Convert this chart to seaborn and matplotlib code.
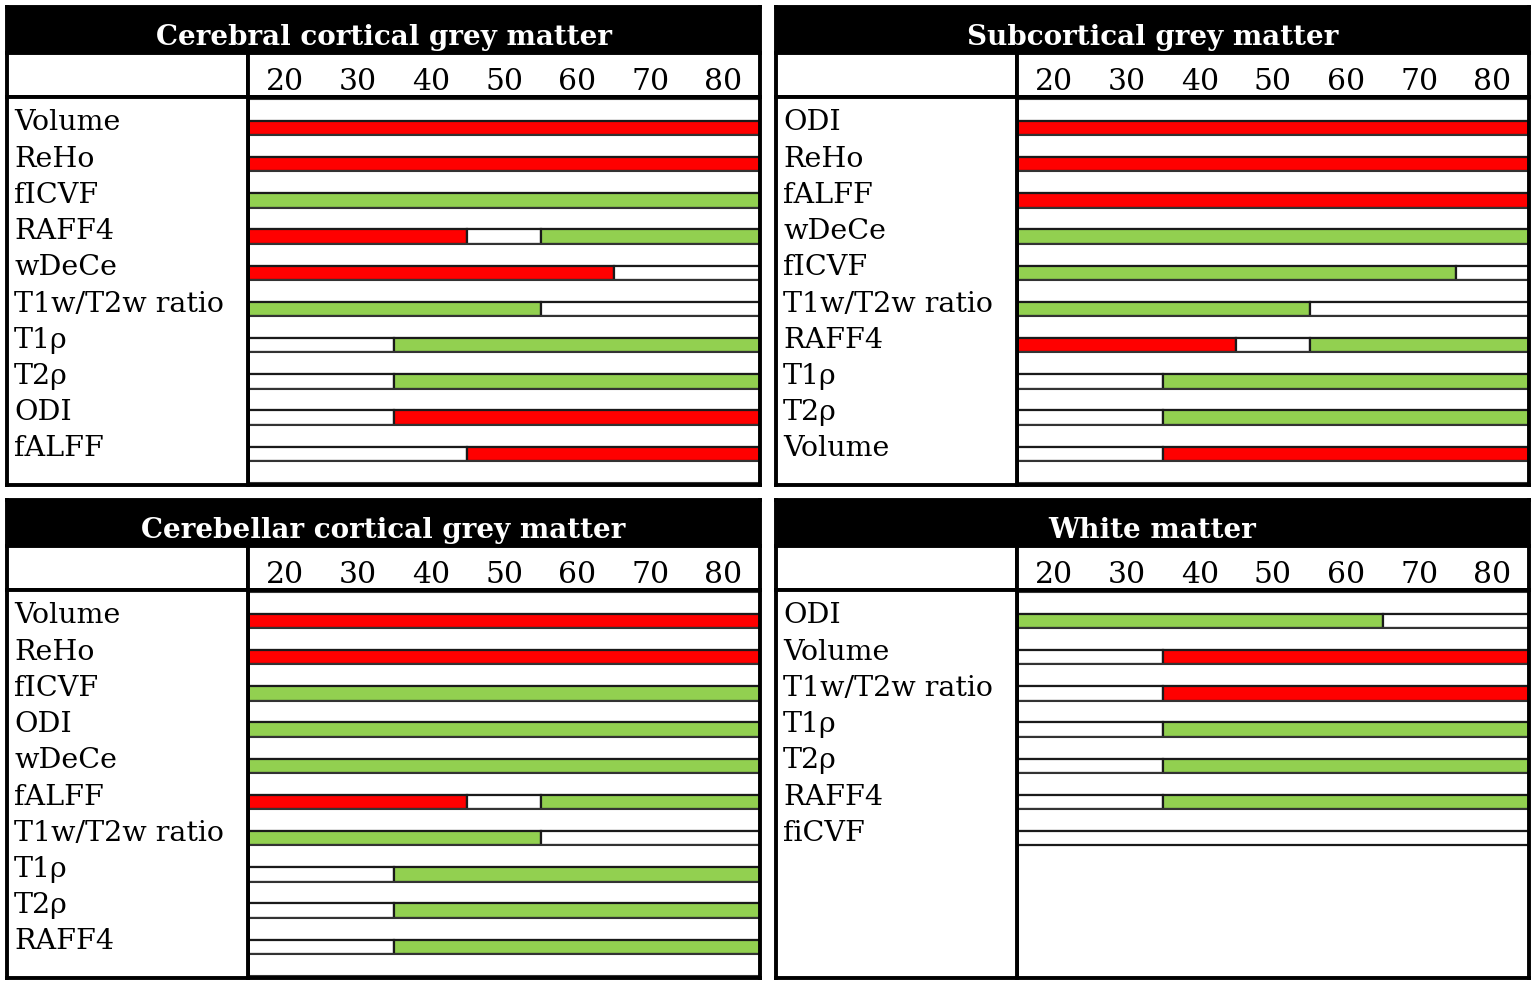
import matplotlib.pyplot as plt
import seaborn as sns

sns.set_theme(style="white")
plt.rcParams["font.family"] = ["DejaVu Serif"]

# age range of the bars and the header ticks
AGE_MIN, AGE_MAX = 15, 85
age_ticks = [20, 30, 40, 50, 60, 70, 80]

titles = ["Cerebral cortical grey matter", "Subcortical grey matter",
          "Cerebellar cortical grey matter", "White matter"]

# segments: (age from, age to, effect)  neg = red, pos = green, ns = white
cerebral_measures = ["Volume", "ReHo", "fICVF", "RAFF4", "wDeCe",
                     "T1w/T2w ratio", "T1ρ", "T2ρ", "ODI", "fALFF"]
cerebral_segments = [
    [(15, 85, "neg")],
    [(15, 85, "neg")],
    [(15, 85, "pos")],
    [(15, 45, "neg"), (45, 55, "ns"), (55, 85, "pos")],
    [(15, 65, "neg"), (65, 85, "ns")],
    [(15, 55, "pos"), (55, 85, "ns")],
    [(15, 35, "ns"), (35, 85, "pos")],
    [(15, 35, "ns"), (35, 85, "pos")],
    [(15, 35, "ns"), (35, 85, "neg")],
    [(15, 45, "ns"), (45, 85, "neg")],
]

subcortical_measures = ["ODI", "ReHo", "fALFF", "wDeCe", "fICVF",
                        "T1w/T2w ratio", "RAFF4", "T1ρ", "T2ρ", "Volume"]
subcortical_segments = [
    [(15, 85, "neg")],
    [(15, 85, "neg")],
    [(15, 85, "neg")],
    [(15, 85, "pos")],
    [(15, 75, "pos"), (75, 85, "ns")],
    [(15, 55, "pos"), (55, 85, "ns")],
    [(15, 45, "neg"), (45, 55, "ns"), (55, 85, "pos")],
    [(15, 35, "ns"), (35, 85, "pos")],
    [(15, 35, "ns"), (35, 85, "pos")],
    [(15, 35, "ns"), (35, 85, "neg")],
]

cerebellar_measures = ["Volume", "ReHo", "fICVF", "ODI", "wDeCe", "fALFF",
                       "T1w/T2w ratio", "T1ρ", "T2ρ", "RAFF4"]
cerebellar_segments = [
    [(15, 85, "neg")],
    [(15, 85, "neg")],
    [(15, 85, "pos")],
    [(15, 85, "pos")],
    [(15, 85, "pos")],
    [(15, 45, "neg"), (45, 55, "ns"), (55, 85, "pos")],
    [(15, 55, "pos"), (55, 85, "ns")],
    [(15, 35, "ns"), (35, 85, "pos")],
    [(15, 35, "ns"), (35, 85, "pos")],
    [(15, 35, "ns"), (35, 85, "pos")],
]

white_measures = ["ODI", "Volume", "T1w/T2w ratio", "T1ρ", "T2ρ", "RAFF4", "fiCVF"]
white_segments = [
    [(15, 65, "pos"), (65, 85, "ns")],
    [(15, 35, "ns"), (35, 85, "neg")],
    [(15, 35, "ns"), (35, 85, "neg")],
    [(15, 35, "ns"), (35, 85, "pos")],
    [(15, 35, "ns"), (35, 85, "pos")],
    [(15, 35, "ns"), (35, 85, "pos")],
    [(15, 85, "ns")],
]

all_measures = [cerebral_measures, subcortical_measures, cerebellar_measures, white_measures]
all_segments = [cerebral_segments, subcortical_segments, cerebellar_segments, white_segments]

effect_colors = {"neg": "#ff0000", "pos": "#92d050", "ns": "white"}

# layout in pixels
W, H = 1536, 985
fig = plt.figure(figsize=(W / 100, H / 100), dpi=100)
panel_origin = [(7, 7), (776, 7), (7, 500), (776, 500)]
PW, PH = 753, 478
TITLE_H, HEAD_H, LAB_W = 46, 44, 241
SPACER = 0.6
MAX_ROWS = 10


def add_ax(x0, y0, x1, y1, **kw):
    return fig.add_axes([x0 / W, 1 - y1 / H, (x1 - x0) / W, (y1 - y0) / H], **kw)


def frame(ax, lw=2.8):
    ax.set_xticks([])
    ax.set_yticks([])
    for s in ax.spines.values():
        s.set_visible(True)
        s.set_color("black")
        s.set_linewidth(lw)


for (px, py), title, measures, segments in zip(panel_origin, titles, all_measures, all_segments):
    # title bar
    ax_t = add_ax(px, py, px + PW, py + TITLE_H)
    ax_t.set_facecolor("black")
    frame(ax_t)
    ax_t.text(0.5, 0.18, title, transform=ax_t.transAxes, ha="center", va="baseline",
              color="white", fontsize=20, fontweight="bold")

    # header row
    ax_hl = add_ax(px, py + TITLE_H, px + LAB_W, py + TITLE_H + HEAD_H)
    frame(ax_hl)
    ax_h = add_ax(px + LAB_W, py + TITLE_H, px + PW, py + TITLE_H + HEAD_H)
    ax_h.set_xlim(AGE_MIN, AGE_MAX)
    frame(ax_h)
    for t in age_ticks:
        ax_h.text(t, 0.16, str(t), transform=ax_h.get_xaxis_transform(),
                  ha="center", va="baseline", fontsize=21.5, color="black")

    # body with bars
    y0 = py + TITLE_H + HEAD_H
    ax_b = add_ax(px + LAB_W, y0, px + PW, py + PH)
    ax_b.set_xlim(AGE_MIN, AGE_MAX)
    ax_b.set_ylim(MAX_ROWS + 0.66, -0.055)
    ax_l = add_ax(px, y0, px + LAB_W, py + PH, sharey=ax_b)
    ax_l.set_xlim(0, 1)

    for i, (name, segs) in enumerate(zip(measures, segments)):
        ax_b.barh(i, AGE_MAX - AGE_MIN, left=AGE_MIN, height=SPACER, align="edge",
                  color="white", edgecolor="#333333", linewidth=1.5)
        for a, b, eff in segs:
            ax_b.barh(i + SPACER, b - a, left=a, height=1 - SPACER, align="edge",
                      color=effect_colors[eff], edgecolor="#1a1a1a", linewidth=1.6)
        ax_l.text(0.03, i + 0.87, name, transform=ax_l.get_yaxis_transform(),
                  ha="left", va="baseline", fontsize=20.5, color="black")
    if len(measures) == MAX_ROWS:
        ax_b.barh(MAX_ROWS, AGE_MAX - AGE_MIN, left=AGE_MIN, height=SPACER, align="edge",
                  color="white", edgecolor="#333333", linewidth=1.5)

    frame(ax_b)
    frame(ax_l)

fig.savefig("out.png", dpi=100)
